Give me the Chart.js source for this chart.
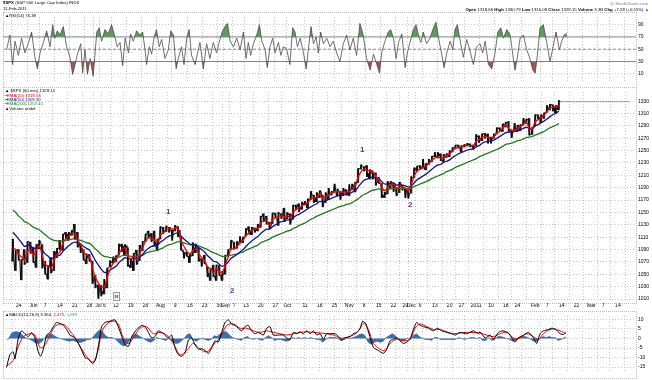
<!DOCTYPE html>
<html><head><meta charset="utf-8">
<script src="https://cdn.jsdelivr.net/npm/chart.js@4.4.1/dist/chart.umd.min.js"></script>
<style>
html,body{margin:0;padding:0;background:#fff;}
#wrap{position:relative;width:652px;height:380px;overflow:hidden;font-family:"Liberation Sans",Arial,sans-serif;color:#000;background:#fff;}
canvas{position:absolute;left:0;}
.t{position:absolute;white-space:nowrap;font-size:4.3px;line-height:5px;}
.box{position:absolute;border:1px dotted #bbb;box-sizing:border-box;pointer-events:none;}
.ann{position:absolute;font-size:8px;font-weight:bold;color:#6b2d8b;line-height:8px;}
</style></head><body>
<div id="wrap">
<canvas id="rsi" width="652" height="75" style="top:12px"></canvas>
<canvas id="main" width="652" height="224" style="top:87px"></canvas>
<canvas id="macd" width="652" height="67" style="top:311px"></canvas>
<div class="box" style="left:3px;top:12px;width:634px;height:76px"></div>
<div class="box" style="left:3px;top:87px;width:634px;height:217px"></div>
<div class="box" style="left:3px;top:311px;width:634px;height:68px"></div>

<div class="t" style="left:3px;top:0px"><b>$SPX</b> (S&amp;P 500 Large Cap Index) INDX</div>
<div class="t" style="left:3px;top:5.5px">11-Feb-2011</div>
<div class="t" style="left:5px;top:12.5px">▲RSI(14) 76.38</div>
<div class="t" style="right:4px;top:0.5px;color:#777">@ StockCharts.com</div>
<div class="t" style="right:3px;top:6.5px"><b>Open</b> 1318.66 <b>High</b> 1330.79 <b>Low</b> 1316.08 <b>Close</b> 1329.15 <b>Volume</b> 3.3B <b>Chg</b> +7.28 (+0.55%) <span style="color:#2a8a2a">▲</span></div>

<div class="t" style="left:5px;top:88.3px">▲ $SPX (60 min) 1329.15</div>
<div class="t" style="left:5px;top:92.6px;color:#e00000">━EMA(20) 1319.53</div>
<div class="t" style="left:5px;top:96.9px;color:#10108a">━EMA(50) 1309.30</div>
<div class="t" style="left:5px;top:101.2px;color:#1e7a1e">━EMA(200) 1257.41</div>
<div class="t" style="left:5px;top:105.5px">▲Volume undef</div>

<div class="t" style="left:5px;top:312px">▲MACD(12,26,9) 3.364, <span style="color:#e00000">2.475</span>, <span style="color:#4aa0d0">0.889</span></div>

<div class="ann" style="left:166px;top:208px">1</div>
<div class="ann" style="left:230px;top:287px">2</div>
<div class="ann" style="left:360px;top:146px">1</div>
<div class="ann" style="left:408px;top:201px">2</div>
<div style="position:absolute;left:113px;top:292px;width:7px;height:9px;border:1px solid #999;box-sizing:border-box;background:#f4f4ff;color:#2233cc;font-size:6px;line-height:7px;text-align:center;font-weight:bold">ıı</div>
</div>
<script>
// ---- x axis (trading-day index, 0 = 24 May 2010) ----
const START = -2;               // first bar: 20 May 2010
const X_MIN = -2.98, X_MAX = 206.8;
const tickPos  = [0,5,9,14,19,24,27,29,33,38,43,48,53,58,63,68,70,73,77,82,87,91,97,102,107,112,117,122,127,131,133,136,141,146,150,155,160,165,169,175,179,184,189,194,198,203];
const tickText = ["24","Jun","7","14","21","28","Jul","6","12","19","26","Aug","9","16","23","30","Sep","7","13","20","27","Oct","11","18","25","Nov","8","15","22","29","Dec","6","13","20","27","2011","10","18","24","Feb","7","14","22","Mar","7","14"];
const priceTicks = [1010,1020,1030,1040,1050,1060,1070,1080,1090,1100,1110,1120,1130,1140,1150,1160,1170,1180,1190,1200,1210,1220,1230,1240,1250,1260,1270,1280,1290,1300,1310,1320,1330,1340];
const rsiTicks = [10,30,50,70,90];
const macdTicks = [-15,-10,-5,0,5,10];

// ---- daily high / low / close (one per trading day from START) ----
const priceHigh = [1107,1090,1090,1074,1090,1103,1102,1094,1098,1105,1098,1071,1063,1077,1087,1092,1105,1115,1118,1118,1121,1131,1118,1099,1090,1083,1082,1071,1048,1033,1032,1042,1060,1072,1078,1080,1099,1099,1098,1093,1074,1084,1089,1097,1103,1115,1120,1116,1120,1107,1127,1126,1128,1126,1122,1129,1127,1110,1086,1086,1082,1101,1099,1093,1075,1081,1062,1059,1065,1065,1064,1055,1081,1090,1105,1102,1103,1111,1110,1124,1127,1126,1125,1131,1144,1148,1144,1134,1149,1149,1150,1148,1157,1150,1148,1162,1162,1164,1167,1168,1172,1184,1178,1182,1185,1178,1182,1189,1184,1196,1188,1184,1189,1187,1195,1196,1199,1221,1227,1224,1226,1219,1215,1214,1207,1197,1183,1200,1200,1198,1190,1199,1194,1189,1187,1208,1222,1225,1226,1236,1229,1236,1241,1247,1247,1245,1244,1245,1250,1255,1259,1259,1258,1260,1262,1261,1259,1276,1274,1277,1278,1277,1272,1277,1287,1287,1293,1296,1297,1283,1294,1291,1292,1302,1301,1302,1288,1308,1308,1308,1311,1323,1325,1324,1323,1331];
const priceLow  = [1071,1056,1073,1041,1066,1069,1084,1069,1061,1091,1060,1050,1042,1052,1056,1077,1089,1089,1107,1105,1113,1107,1094,1085,1073,1067,1071,1035,1028,1011,1015,1018,1028,1062,1068,1070,1081,1087,1080,1063,1061,1056,1066,1072,1088,1103,1109,1103,1096,1088,1107,1116,1119,1118,1105,1120,1111,1089,1076,1079,1069,1080,1085,1071,1063,1067,1046,1040,1046,1040,1048,1040,1050,1080,1091,1091,1092,1102,1101,1112,1115,1114,1118,1120,1126,1136,1131,1124,1132,1142,1129,1140,1136,1140,1131,1139,1154,1151,1155,1162,1157,1171,1166,1167,1174,1159,1166,1171,1178,1184,1177,1171,1177,1178,1177,1187,1183,1198,1220,1217,1208,1204,1204,1194,1197,1174,1174,1180,1189,1184,1177,1182,1186,1174,1173,1181,1206,1217,1220,1222,1219,1228,1232,1240,1238,1234,1232,1239,1240,1248,1254,1254,1248,1256,1258,1256,1252,1258,1263,1266,1270,1262,1262,1270,1277,1282,1281,1288,1281,1271,1283,1281,1282,1291,1294,1275,1276,1290,1301,1295,1302,1312,1316,1314,1311,1316];
const priceClose = [1071.6,1087.7,1073.7,1074.0,1068.0,1103.1,1089.4,1070.7,1098.4,1102.8,1064.9,1050.5,1062.0,1055.7,1086.8,1091.6,1089.6,1115.2,1114.6,1116.0,1117.5,1113.2,1095.3,1092.0,1073.7,1076.8,1074.6,1041.2,1030.7,1027.4,1022.6,1028.1,1060.3,1070.3,1078.0,1078.8,1095.3,1095.2,1096.5,1064.9,1071.3,1083.5,1069.6,1093.7,1102.7,1115.0,1113.8,1106.1,1101.5,1101.6,1125.9,1120.5,1127.2,1125.8,1121.6,1127.8,1121.1,1089.5,1083.6,1079.3,1079.4,1092.5,1094.2,1075.6,1071.7,1067.4,1051.9,1055.3,1047.2,1064.6,1048.9,1049.3,1080.3,1090.1,1104.5,1091.8,1098.9,1104.2,1109.6,1121.9,1121.1,1125.1,1124.7,1125.6,1142.7,1139.8,1134.3,1124.8,1148.7,1142.2,1147.7,1144.7,1141.2,1146.2,1137.0,1160.8,1160.0,1158.1,1165.2,1165.3,1169.8,1178.1,1173.8,1176.2,1184.7,1165.9,1178.2,1180.3,1183.1,1185.6,1185.6,1182.5,1183.8,1183.3,1184.4,1193.6,1198.0,1221.1,1225.9,1223.3,1213.4,1218.7,1213.5,1199.2,1197.8,1178.3,1178.6,1196.7,1199.7,1197.8,1180.7,1198.4,1189.4,1187.8,1180.6,1206.1,1221.5,1224.7,1223.1,1223.8,1228.3,1233.0,1240.4,1240.5,1241.6,1235.2,1242.9,1243.9,1247.1,1254.6,1258.8,1256.8,1257.5,1258.5,1259.8,1257.9,1257.6,1271.9,1270.2,1276.6,1273.9,1271.5,1269.8,1274.5,1286.0,1283.8,1293.2,1295.0,1281.9,1280.3,1283.4,1290.8,1291.2,1296.6,1299.5,1276.3,1286.1,1307.6,1304.0,1307.1,1310.9,1319.1,1324.6,1320.9,1321.9,1329.15];

// ---- moving averages (one per trading day from START) ----
const ema20 = [1093,1090,1082,1078,1073,1088,1089,1080,1089,1096,1080,1065,1064,1060,1073,1082,1086,1101,1108,1112,1115,1114,1105,1098,1086,1081,1078,1060,1045,1036,1029,1029,1045,1058,1068,1073,1084,1090,1093,1079,1075,1079,1074,1084,1093,1104,1109,1108,1105,1103,1114,1117,1122,1124,1123,1125,1123,1106,1095,1087,1083,1088,1091,1083,1077,1072,1062,1059,1053,1059,1054,1052,1066,1078,1091,1091,1095,1100,1105,1113,1117,1121,1123,1124,1133,1136,1135,1130,1139,1141,1144,1144,1143,1145,1141,1151,1155,1157,1161,1163,1166,1172,1173,1175,1180,1173,1176,1178,1181,1183,1184,1183,1183,1183,1184,1189,1193,1207,1216,1220,1217,1218,1216,1208,1203,1191,1185,1191,1195,1196,1188,1193,1191,1189,1185,1196,1209,1217,1220,1222,1225,1229,1235,1238,1240,1238,1240,1242,1245,1250,1254,1255,1256,1257,1258,1258,1258,1265,1268,1272,1273,1272,1271,1273,1279,1281,1287,1291,1286,1283,1283,1287,1289,1293,1296,1286,1286,1297,1300,1304,1307,1313,1319,1320,1321,1323];
const ema50 = [1118,1113,1107,1101,1095,1097,1096,1091,1093,1094,1089,1083,1079,1075,1077,1080,1081,1087,1092,1096,1100,1102,1101,1099,1095,1092,1089,1081,1072,1065,1058,1053,1054,1057,1060,1063,1069,1073,1077,1075,1075,1076,1075,1078,1082,1088,1092,1095,1096,1097,1102,1105,1109,1112,1113,1116,1117,1112,1107,1103,1099,1098,1097,1093,1090,1086,1080,1076,1071,1070,1066,1063,1066,1070,1076,1079,1082,1086,1090,1095,1100,1104,1108,1111,1116,1120,1123,1123,1127,1130,1133,1135,1136,1138,1138,1142,1145,1147,1150,1153,1156,1159,1162,1164,1168,1167,1169,1171,1173,1175,1177,1178,1179,1180,1180,1183,1185,1191,1197,1202,1204,1206,1207,1206,1205,1200,1196,1196,1197,1197,1194,1195,1194,1193,1191,1193,1198,1203,1206,1209,1212,1216,1220,1224,1227,1228,1231,1233,1235,1239,1242,1245,1247,1249,1251,1252,1253,1256,1258,1262,1264,1265,1266,1267,1270,1273,1276,1279,1280,1280,1281,1282,1284,1286,1288,1286,1286,1290,1292,1295,1298,1301,1305,1308,1310,1314];
const ema200 = [1154,1150,1144,1140,1135,1133,1130,1126,1124,1122,1118,1114,1110,1107,1105,1104,1103,1104,1105,1106,1107,1107,1106,1105,1103,1101,1100,1096,1091,1087,1082,1079,1078,1077,1077,1077,1078,1080,1081,1080,1079,1079,1079,1080,1081,1084,1086,1087,1088,1089,1091,1093,1096,1098,1099,1101,1103,1102,1101,1099,1098,1097,1097,1096,1094,1092,1090,1087,1085,1083,1081,1079,1079,1080,1081,1082,1083,1085,1086,1089,1091,1093,1095,1097,1101,1103,1105,1107,1110,1112,1114,1116,1118,1120,1121,1124,1126,1129,1131,1133,1136,1139,1141,1144,1146,1148,1150,1152,1154,1156,1158,1160,1161,1163,1164,1166,1169,1172,1176,1179,1181,1184,1186,1187,1188,1187,1186,1187,1188,1189,1188,1189,1189,1189,1188,1189,1192,1194,1196,1198,1200,1202,1205,1207,1209,1211,1213,1216,1218,1220,1223,1225,1227,1229,1231,1233,1235,1237,1240,1242,1244,1246,1248,1250,1252,1254,1257,1260,1261,1262,1264,1266,1267,1269,1271,1272,1273,1275,1277,1279,1281,1284,1287,1289,1291,1294];

// ---- RSI(14) swing readings [dayIndex, value] ----
const rsi14 = [[-1.8,49],[-0.7,73],[0.2,25],[1.0,63],[2.1,40],[3.2,68],[4.3,44],[5.4,59],[6.5,78],[7.6,37],[8.4,18],[9.3,44],[10.4,61],[11.5,80],[12.6,54],[13.5,90],[14.2,68],[15.0,80],[15.9,73],[17.0,87],[18.1,54],[19.2,37],[20.1,9],[20.9,25],[21.6,40],[22.8,59],[23.4,11],[24.2,49],[25.0,9],[25.9,35],[26.9,6],[28.1,78],[28.9,85],[29.7,63],[30.8,82],[31.9,75],[33.0,90],[34.1,70],[34.9,54],[35.8,61],[36.7,23],[37.5,68],[38.6,44],[39.3,75],[40.2,63],[41.3,80],[42.4,73],[43.3,78],[44.1,49],[44.6,25],[45.5,54],[46.3,42],[47.1,70],[47.9,82],[48.8,54],[49.6,66],[50.7,35],[51.8,49],[52.6,80],[53.5,73],[54.4,18],[55.1,35],[56.2,54],[57.0,25],[57.9,68],[58.7,82],[59.5,40],[60.7,25],[61.4,42],[62.3,61],[63.4,18],[64.5,59],[65.6,35],[66.7,61],[67.8,44],[68.9,66],[69.8,80],[70.6,87],[71.4,92],[72.3,63],[73.4,54],[74.5,68],[75.6,49],[76.7,78],[77.6,35],[78.3,61],[79.1,40],[80.0,59],[81.1,73],[82.0,90],[82.8,63],[83.9,49],[84.6,20],[85.5,54],[86.4,68],[87.2,44],[88.3,61],[89.1,40],[89.9,54],[91.0,51],[92.1,25],[93.0,85],[93.8,78],[94.6,54],[95.5,68],[96.6,44],[97.5,18],[98.2,49],[99.1,87],[99.9,59],[100.8,70],[101.5,44],[102.3,78],[103.2,59],[104.3,68],[105.4,54],[106.5,63],[107.6,44],[108.7,30],[109.8,59],[110.9,73],[112.0,49],[113.1,68],[114.2,40],[115.3,92],[116.4,73],[117.5,35],[118.7,16],[119.8,42],[120.9,25],[121.8,11],[122.5,44],[123.6,63],[124.7,78],[125.5,82],[126.4,68],[127.3,35],[128.1,61],[129.2,75],[130.3,20],[131.0,44],[131.9,61],[133.0,82],[133.9,90],[134.7,73],[135.5,61],[136.3,78],[137.4,59],[138.5,68],[139.7,85],[140.5,94],[141.3,70],[142.4,42],[143.2,20],[144.1,44],[145.2,63],[146.1,49],[146.8,82],[147.6,90],[148.7,59],[149.6,37],[150.7,66],[151.8,47],[152.9,25],[154.0,54],[155.1,59],[156.0,44],[156.8,63],[157.9,25],[159.0,18],[160.1,44],[161.0,78],[162.0,85],[162.9,68],[164.0,82],[165.1,73],[166.0,40],[166.7,16],[167.5,37],[168.4,68],[169.5,73],[170.6,49],[171.5,37],[172.6,16],[173.4,11],[174.1,40],[175.0,85],[176.1,90],[177.2,61],[178.3,30],[179.2,51],[180.3,78],[181.4,49],[182.2,63],[183.0,73],[183.9,76]];

// ---- MACD(12,26,9) readings [dayIndex, value] ----
const macdLine = [[-1.8,-15.1],[-0.7,-8.5],[0.4,-7.0],[1.0,-10.7],[2.1,0.3],[3.2,4.0],[4.3,2.5],[5.4,1.0],[6.5,3.2],[7.6,0.3],[8.7,-7.0],[9.5,-9.3],[10.4,-5.6],[11.5,1.8],[12.6,3.2],[13.7,6.2],[14.8,8.4],[15.9,7.9],[17.0,6.9],[18.1,4.7],[19.2,1.8],[20.9,0.3],[22.5,-4.1],[24.2,-10.0],[25.3,-10.7],[26.7,-13.2],[27.8,-10.7],[28.9,-1.2],[29.7,6.2],[30.8,8.4],[32.5,9.1],[34.1,9.8],[35.2,6.2],[36.4,1.0],[37.5,-3.4],[38.6,-4.1],[39.7,1.0],[41.3,4.7],[43.0,6.9],[44.1,6.2],[45.2,3.2],[46.3,0.3],[47.4,1.0],[48.5,4.0],[50.2,2.5],[51.8,0.3],[52.9,1.8],[54.0,-4.8],[55.1,-8.5],[56.2,-9.3],[57.3,-7.8],[58.4,-1.2],[59.5,0.3],[60.7,-3.4],[61.8,-5.6],[62.9,-5.3],[64.0,-6.3],[65.1,-7.8],[66.2,-4.8],[67.3,-1.2],[68.4,-1.9],[69.5,3.2],[70.6,8.4],[71.7,9.8],[72.8,7.6],[73.9,6.9],[75.0,5.4],[76.1,4.0],[77.2,6.2],[78.3,6.9],[79.4,4.0],[80.5,2.5],[81.7,3.2],[83.3,1.8],[84.4,5.4],[85.5,6.2],[86.6,1.8],[88.3,1.8],[89.9,1.8],[91.0,0.3],[92.1,-0.4],[93.3,3.2],[94.4,2.5],[95.5,3.5],[96.6,2.5],[97.7,4.0],[98.8,2.5],[99.9,4.0],[101.0,1.8],[102.1,2.5],[103.2,-0.4],[104.3,2.5],[105.4,2.5],[107.1,2.5],[108.2,1.0],[109.3,-0.9],[110.4,0.3],[112.0,1.0],[113.1,2.5],[114.3,3.2],[115.4,5.4],[116.2,9.1],[117.3,7.6],[118.7,0.3],[119.8,-4.8],[121.4,-6.3],[123.1,-7.8],[124.2,-5.6],[125.3,-1.2],[126.4,-0.4],[127.5,0.3],[128.6,-1.2],[129.7,-2.6],[130.8,-1.9],[131.9,-0.4],[133.0,4.7],[134.1,8.4],[135.2,6.9],[136.4,6.2],[138.0,5.4],[139.7,4.0],[141.0,5.4],[142.4,4.0],[144.1,3.2],[145.7,2.5],[146.9,1.8],[148.5,3.2],[150.7,2.5],[152.9,4.0],[154.6,2.5],[155.1,3.5],[156.8,0.3],[158.5,1.8],[159.6,-0.4],[161.2,3.2],[162.7,4.0],[164.5,2.9],[165.6,0.3],[166.7,-1.9],[167.8,0.3],[169.5,1.8],[171.2,3.2],[172.8,0.3],[173.9,-2.6],[175.0,2.5],[176.1,4.0],[177.8,4.7],[178.9,5.4],[180.0,5.0],[181.7,2.5],[182.8,2.1],[183.5,3.4]];
const macdSignal = [[-1.8,-14.4],[0.4,-11.5],[2.1,-4.1],[3.8,1.0],[5.9,2.5],[7.6,1.8],[9.3,-4.8],[10.9,-3.4],[12.6,1.8],[14.2,6.2],[15.9,7.6],[17.6,6.9],[19.2,4.0],[20.9,0.3],[23.1,-5.6],[25.0,-10.0],[26.9,-12.2],[28.6,-5.6],[29.7,3.2],[31.4,7.6],[33.6,9.1],[35.2,7.6],[36.9,0.3],[38.6,-2.6],[40.2,0.3],[42.4,5.4],[44.6,6.2],[46.8,2.5],[49.1,3.2],[51.3,1.8],[53.5,-2.6],[55.7,-8.5],[57.9,-6.3],[60.1,-2.6],[62.3,-5.6],[64.5,-7.0],[66.7,-3.4],[68.9,0.3],[71.2,6.9],[73.4,7.6],[75.6,5.4],[77.8,5.4],[80.0,4.0],[82.2,3.2],[84.4,4.0],[86.6,3.2],[88.8,2.5],[91.0,1.8],[93.3,2.5],[95.5,3.2],[97.7,3.5],[99.9,3.2],[102.1,2.9],[104.3,2.5],[106.5,1.8],[108.7,0.3],[110.9,0.6],[113.1,1.8],[114.8,4.0],[116.5,7.9],[118.1,4.7],[119.8,-2.6],[122.0,-5.6],[123.6,-6.3],[125.3,-2.6],[127.5,-0.4],[129.7,-1.2],[131.9,-0.4],[133.6,5.4],[135.2,7.6],[137.5,6.2],[139.7,4.7],[141.9,4.7],[144.1,3.5],[146.3,2.5],[148.5,2.9],[150.7,3.2],[152.9,3.2],[155.1,2.9],[157.3,1.8],[159.6,1.0],[161.8,2.5],[164.0,3.2],[166.2,0.3],[168.4,0.3],[170.6,2.5],[172.8,1.0],[174.5,-0.4],[176.1,2.5],[178.3,4.7],[180.5,4.7],[183.5,2.5]];
const macdHist = [[-1.5,-1],[0,3],[1,3.5],[2,3.5],[3,2.5],[4,1],[5,0],[6,-0.5],[7,-1.5],[8,-2.5],[9,-2.5],[10,-1.5],[11,0.5],[12,2],[13,2.5],[14,1.5],[15,0.5],[16,0],[17,-0.5],[18,-1],[19,-1.5],[20,-1],[21,-1.5],[22,-2],[23,-2],[24,-1.5],[25,-0.5],[26,-0.5],[27,1],[28,3],[29,4.5],[30,3.5],[31,1.5],[32,0.5],[33,0.5],[34,0],[35,-1.5],[36,-3],[37,-4],[38,-3],[39,-1],[40,1.5],[41,2.5],[42,1.5],[43,0.5],[44,-0.5],[45,-1.5],[46,-2],[47,-1],[48,0.5],[49,0],[50,-0.5],[51,-1],[52,0],[53,-1.5],[54,-2.5],[55,-2.5],[56,-1.5],[57,0],[58,2],[59,2.5],[60,-0.5],[61,-1.5],[62,-0.5],[63,0],[64,-0.5],[65,-1],[66,-0.5],[67,1.5],[68,1],[69,2.5],[70,3.5],[71,3.5],[72,2],[73,0.5],[74,0],[75,-0.5],[76,-1],[77,0.5],[78,1],[79,0],[80,-0.5],[81,0],[82,-0.5],[83,-1],[84,0.5],[85,1.5],[86,0.5],[87,-1],[88,-0.5],[89,-0.5],[90,-1],[91,-1.5],[92,-1],[93,0.5],[94,0],[95,0.5],[96,0],[97,0.5],[98,0],[99,0.5],[100,0],[101,-0.5],[102,-0.5],[103,-2],[104,-0.5],[105,0.5],[106,0.5],[107,0.5],[108,0],[109,-1],[110,-0.5],[111,0],[112,0],[113,0.5],[114,1],[115,2],[116,2.5],[117,1.5],[118,-2],[119,-3],[120,-2],[121,-1.5],[122,-2],[123,-1.5],[124,0.5],[125,1.5],[126,2.5],[127,1.5],[128,0],[129,-1.5],[130,-1],[131,0],[132,-0.5],[133,1.5],[134,2.5],[135,1],[136,0],[137,-0.5],[138,-0.5],[139,-1],[140,0.5],[141,0.5],[142,-0.5],[143,-0.5],[144,-0.5],[145,-0.5],[146,-0.5],[147,-0.5],[148,0.5],[149,0],[150,-0.5],[151,0],[152,0.5],[153,0.5],[154,0],[155,0.5],[156,-1],[157,-1],[158,0.5],[159,-1],[160,-0.5],[161,1],[162,1],[163,0.5],[164,0],[165,-0.5],[166,-1.5],[167,-1],[168,0.5],[169,1],[170,1],[171,0.5],[172,-0.5],[173,-1.5],[174,-1.5],[175,0],[176,1],[177,0.5],[178,1],[179,0.5],[180,0.5],[181,-1],[182,-0.5],[183.5,0.9]];

// ---- helpers ----
const FONT = {family:'"Liberation Sans", Arial, sans-serif', size:5};
const GRID = '#c4c4c4';
const pts = arr => arr.map(p => ({x:p[0], y:p[1]}));
const daily = arr => arr.map((v,i) => ({x:START+i, y:v}));
// intraday path through each day's extremes (order follows the day's direction), ending at the close
const pricePath = [];
priceHigh.forEach((h,i) => {
  const l = priceLow[i], c = priceClose[i], up = i === 0 ? true : c >= priceClose[i-1];
  const x = START + i;
  pricePath.push({x:x-0.35, y: up ? l : h});
  pricePath.push({x:x+0.05, y: up ? h : l});
  pricePath.push({x:x+0.4,  y: c});
});

function xAxis(show){
  return {
    type:'linear', min:X_MIN, max:X_MAX,
    afterBuildTicks: s => { s.ticks = tickPos.map(v => ({value:v})); },
    ticks:{display:show, autoSkip:false, maxRotation:0, minRotation:0, font:FONT, color:'#000', padding:1,
      callback: v => { const k = tickPos.indexOf(v); return k >= 0 ? tickText[k] : ''; }},
    grid:{color:GRID, lineWidth:1, drawTicks:false},
    border:{display:false, dash:[1,2]},
    afterFit: s => { s.height = show ? 9 : 0; }
  };
}
function yAxis(min, max, ticks){
  return {
    position:'right', min, max,
    afterBuildTicks: s => { s.ticks = ticks.map(v => ({value:v})); },
    ticks:{font:FONT, color:'#000', padding:2, callback: v => String(v)},
    grid:{color:GRID, lineWidth:1, drawTicks:false},
    border:{display:false, dash:[1,2]},
    afterFit: s => { s.width = 16; }
  };
}
const base = {responsive:false, animation:false, devicePixelRatio:1,
  layout:{padding:{left:3, right:0, top:0, bottom:0}},
  plugins:{legend:{display:false}, tooltip:{enabled:false}},
  elements:{point:{radius:0}, line:{tension:0}}};

// ---- RSI panel ----
const rsiData = pts(rsi14);
const refLine = v => [{x:X_MIN, y:v}, {x:X_MAX, y:v}];
new Chart(document.getElementById('rsi'), {
  type:'line',
  data:{datasets:[
    {data:refLine(70), borderColor:'#8a8a8a', borderWidth:1, pointRadius:0, order:5},
    {data:refLine(30), borderColor:'#8a8a8a', borderWidth:1, pointRadius:0, order:5},
    {data:refLine(50), borderColor:'#8a8a8a', borderWidth:1, borderDash:[3,2], pointRadius:0, order:5},
    {data:rsiData, borderColor:'#4a4a4a', borderWidth:0.8, pointRadius:0, order:1,
      fill:{target:{value:70}, above:'#5d9a5d', below:'rgba(0,0,0,0)'}},
    {data:rsiData, borderColor:'rgba(0,0,0,0)', borderWidth:0, pointRadius:0, order:2,
      fill:{target:{value:30}, above:'rgba(0,0,0,0)', below:'#a65252'}}
  ]},
  options:{...base, scales:{x:xAxis(false), y:yAxis(-3.4, 102.5, rsiTicks)}}
});

// ---- price panel ----
new Chart(document.getElementById('main'), {
  type:'bar',
  data:{datasets:[
    {type:'bar', data:priceHigh.map((h,i) => ({x:START+i, y:[priceLow[i], h]})),
      backgroundColor:'#222', borderWidth:0, barThickness:1.3, order:10},
    {type:'line', data:pricePath, borderColor:'#000', borderWidth:0.9, pointRadius:0, tension:0, order:9},
    {type:'line', data:daily(ema200), borderColor:'#1e7a1e', borderWidth:1.3, pointRadius:0, tension:0.3, order:3},
    {type:'line', data:daily(ema50), borderColor:'#10108a', borderWidth:1.3, pointRadius:0, tension:0.3, order:2},
    {type:'line', data:daily(ema20), borderColor:'#ff0000', borderWidth:1.3, pointRadius:0, tension:0.3, order:1},
    {type:'line', data:[{x:START+priceHigh.length-0.5, y:priceClose[priceClose.length-1]}, {x:X_MAX, y:priceClose[priceClose.length-1]}],
      borderColor:'#3b3bff', borderWidth:1, borderDash:[1,1], pointRadius:0, order:0}
  ]},
  options:{...base, scales:{x:xAxis(true), y:yAxis(1005.2, 1344.8, priceTicks)}}
});

// ---- MACD panel ----
new Chart(document.getElementById('macd'), {
  type:'line',
  data:{datasets:[
    {data:pts(macdHist), borderColor:'#1d4a85', backgroundColor:'#3a6fb0', borderWidth:0.5, fill:'origin', pointRadius:0, order:5},
    {data:pts(macdSignal), borderColor:'#ff0000', borderWidth:1, pointRadius:0, tension:0.35, order:2},
    {data:pts(macdLine), borderColor:'#000', borderWidth:1, pointRadius:0, tension:0.2, order:1}
  ]},
  options:{...base, scales:{x:xAxis(false), y:yAxis(-18.1, 11.8, macdTicks)}}
});
</script>
</body></html>
